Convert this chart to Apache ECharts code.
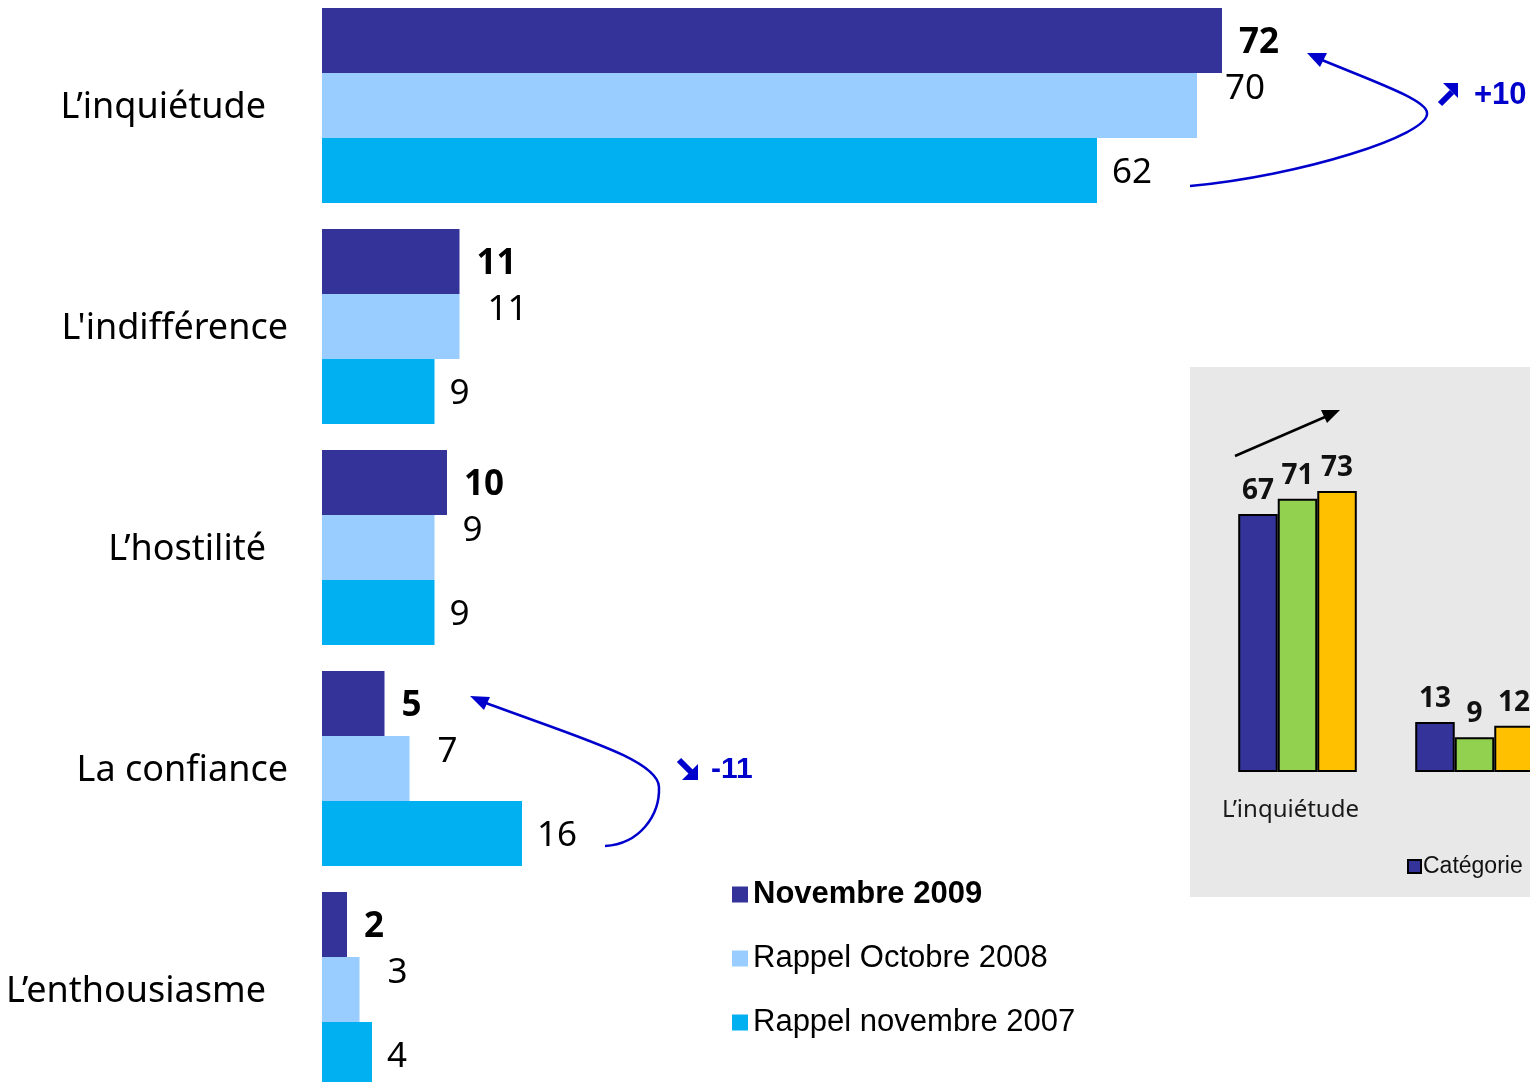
<!DOCTYPE html>
<html><head><meta charset="utf-8">
<script src="https://cdn.jsdelivr.net/npm/echarts@6/dist/echarts.min.js"></script>
<style>html,body{margin:0;padding:0;background:#fff}#c{width:1530px;height:1082px}</style>
</head><body><div id="c"></div>
<script>
const categories = ['L’inquiétude', "L'indifférence", 'L’hostilité', 'La confiance', 'L’enthousiasme'];
const seriesNames = ['Novembre 2009', 'Rappel Octobre 2008', 'Rappel novembre 2007'];
const nov2009 = [72, 11, 10, 5, 2];
const oct2008 = [70, 11, 9, 7, 3];
const nov2007 = [62, 9, 9, 16, 4];
const insetCategories = ['L’inquiétude', "L'indifférence"];
const insetNames = ['Catégorie 1', 'Catégorie 2', 'Catégorie 3'];
const insetA = [67, 13];
const insetB = [71, 9];
const insetC = [73, 12];
const changeLabels = ['+10', '-11'];

const FONT = '"Noto Sans", "Open Sans", sans-serif';
const ARIAL = '"Liberation Sans", Arial, sans-serif';
const BLUE = '#0000CC';
const widePad = [0, 1, 0, 1, 0]; // which categories sit further right

const chart = echarts.init(document.getElementById('c'), null, {renderer: 'canvas'});

function mainSeries(name, data, color, bold, dist, offY) {
  return {
    name: name, type: 'bar', xAxisIndex: 0, yAxisIndex: 0,
    data: data, barGap: '0%', barCategoryGap: '11.76%',
    itemStyle: {color: color},
    label: {show: true, position: 'right', distance: dist, offset: [0, offY],
      color: '#000', fontFamily: FONT, fontSize: 35, fontWeight: bold ? 'bold' : 'normal'},
    z: 3
  };
}
function insetSeries(name, data, color) {
  return {
    name: name, type: 'bar', xAxisIndex: 1, yAxisIndex: 1,
    data: data, barGap: '0%', barCategoryGap: '33%',
    itemStyle: {color: color, borderColor: '#000', borderWidth: 2},
    label: {show: true, position: 'top', distance: 9, color: '#111',
      fontFamily: FONT, fontSize: 28, fontWeight: 'bold'},
    z: 3
  };
}

const option = {
  animation: false,
  backgroundColor: '#ffffff',
  grid: [
    {left: 322, top: -5, width: 1000, height: 1105, outerBoundsMode: 'none', containLabel: false},
    {left: 1209, top: 464, width: 354, height: 308, outerBoundsMode: 'none', containLabel: false}
  ],
  xAxis: [
    {type: 'value', gridIndex: 0, min: 0, max: 80, show: false},
    {type: 'category', gridIndex: 1, data: insetCategories,
      axisLine: {show: false}, axisTick: {show: false},
      axisLabel: {margin: 26, color: '#1a1a1a', fontFamily: FONT, fontSize: 24,
        formatter: function (v) { return '{a|' + v + '}'; },
        rich: {a: {fontFamily: FONT, fontSize: 24, color: '#1a1a1a', padding: [0, 14, 0, 0]}}}}
  ],
  yAxis: [
    {type: 'category', gridIndex: 0, data: categories, inverse: true,
      axisLine: {show: false}, axisTick: {show: false}, splitLine: {show: false},
      axisLabel: {margin: 34, fontFamily: FONT, fontSize: 36, color: '#000',
        formatter: function (v, i) { return widePad[i] ? '{w|' + v + '}' : '{n|' + v + '}'; },
        rich: {
          w: {fontFamily: FONT, fontSize: 36, color: '#000', padding: [4, 0, 0, 0]},
          n: {fontFamily: FONT, fontSize: 36, color: '#000', padding: [4, 22, 0, 0]}
        }}},
    {type: 'value', gridIndex: 1, min: 0, max: 80, show: false}
  ],
  legend: [
    {orient: 'vertical', left: 727, top: 874, itemWidth: 16, itemHeight: 16, itemGap: 33,
      icon: 'rect',
      textStyle: {fontFamily: ARIAL, fontSize: 31, color: '#000'},
      data: [
        {name: seriesNames[0], textStyle: {fontWeight: 'bold'}},
        {name: seriesNames[1]},
        {name: seriesNames[2]}
      ]},
    {orient: 'horizontal', left: 1402, top: 850, width: 900, itemWidth: 13, itemHeight: 13, itemGap: 10,
      icon: 'rect',
      textStyle: {fontFamily: ARIAL, fontSize: 23, color: '#111', padding: [0, 0, 0, -3]},
      data: insetNames}
  ],
  graphic: [
    {type: 'rect', z: -10, shape: {x: 1190, y: 367, width: 360, height: 530}, style: {fill: '#e8e8e8'}},
    // inset trend arrow
    {type: 'line', z: 10, shape: {x1: 1235, y1: 456, x2: 1325, y2: 417}, style: {stroke: '#000', lineWidth: 2.5}},
    {type: 'polygon', z: 10, shape: {points: [[1340, 410], [1327, 423], [1321, 410]]}, style: {fill: '#000'}},
    // curved arrow +10
    {type: 'bezierCurve', z: 10, shape: {x1: 1190, y1: 186, cpx1: 1300, cpy1: 176, cpx2: 1430, cpy2: 135, x2: 1427, y2: 113},
      style: {stroke: BLUE, lineWidth: 2.5, fill: null}},
    {type: 'bezierCurve', z: 10, shape: {x1: 1427, y1: 113, cpx1: 1427, cpy1: 100, cpx2: 1375, cpy2: 82, x2: 1322, y2: 60},
      style: {stroke: BLUE, lineWidth: 2.5, fill: null}},
    {type: 'polygon', z: 10, shape: {points: [[1307, 53], [1327, 53], [1320, 67]]}, style: {fill: BLUE}},
    // heavy NE arrow glyph
    {type: 'line', z: 10, shape: {x1: 1440, y1: 104, x2: 1452, y2: 92}, style: {stroke: BLUE, lineWidth: 6}},
    {type: 'polygon', z: 10, shape: {points: [[1443, 83], [1458, 83], [1458, 98]]}, style: {fill: BLUE}},
    {type: 'text', z: 10, style: {x: 1474, y: 95, text: changeLabels[0], fill: BLUE, fontFamily: ARIAL, fontWeight: 'bold', fontSize: 31, verticalAlign: 'middle', align: 'left'}},
    // curved arrow -11
    {type: 'bezierCurve', z: 10, shape: {x1: 605, y1: 846, cpx1: 640, cpy1: 844, cpx2: 660, cpy2: 815, x2: 659, y2: 787},
      style: {stroke: BLUE, lineWidth: 2.5, fill: null}},
    {type: 'bezierCurve', z: 10, shape: {x1: 659, y1: 787, cpx1: 658, cpy1: 760, cpx2: 580, cpy2: 738, x2: 486, y2: 703},
      style: {stroke: BLUE, lineWidth: 2.5, fill: null}},
    {type: 'polygon', z: 10, shape: {points: [[470, 696], [490, 697], [484, 710]]}, style: {fill: BLUE}},
    // heavy SE arrow glyph
    {type: 'line', z: 10, shape: {x1: 679, y1: 760, x2: 691, y2: 772}, style: {stroke: BLUE, lineWidth: 6}},
    {type: 'polygon', z: 10, shape: {points: [[698, 764], [698, 780], [682, 780]]}, style: {fill: BLUE}},
    {type: 'text', z: 10, style: {x: 711, y: 770, text: changeLabels[1], fill: BLUE, fontFamily: ARIAL, fontWeight: 'bold', fontSize: 30, verticalAlign: 'middle', align: 'left'}}
  ],
  series: [
    mainSeries(seriesNames[0], nov2009, '#333399', true, 17, 3),
    mainSeries(seriesNames[1], oct2008, '#99CCFF', false, 28, -16),
    mainSeries(seriesNames[2], nov2007, '#00B0F0', false, 15, 3),
    insetSeries(insetNames[0], insetA, '#333399'),
    insetSeries(insetNames[1], insetB, '#92D050'),
    insetSeries(insetNames[2], insetC, '#FFC000')
  ]
};
chart.setOption(option);
</script>
</body></html>
